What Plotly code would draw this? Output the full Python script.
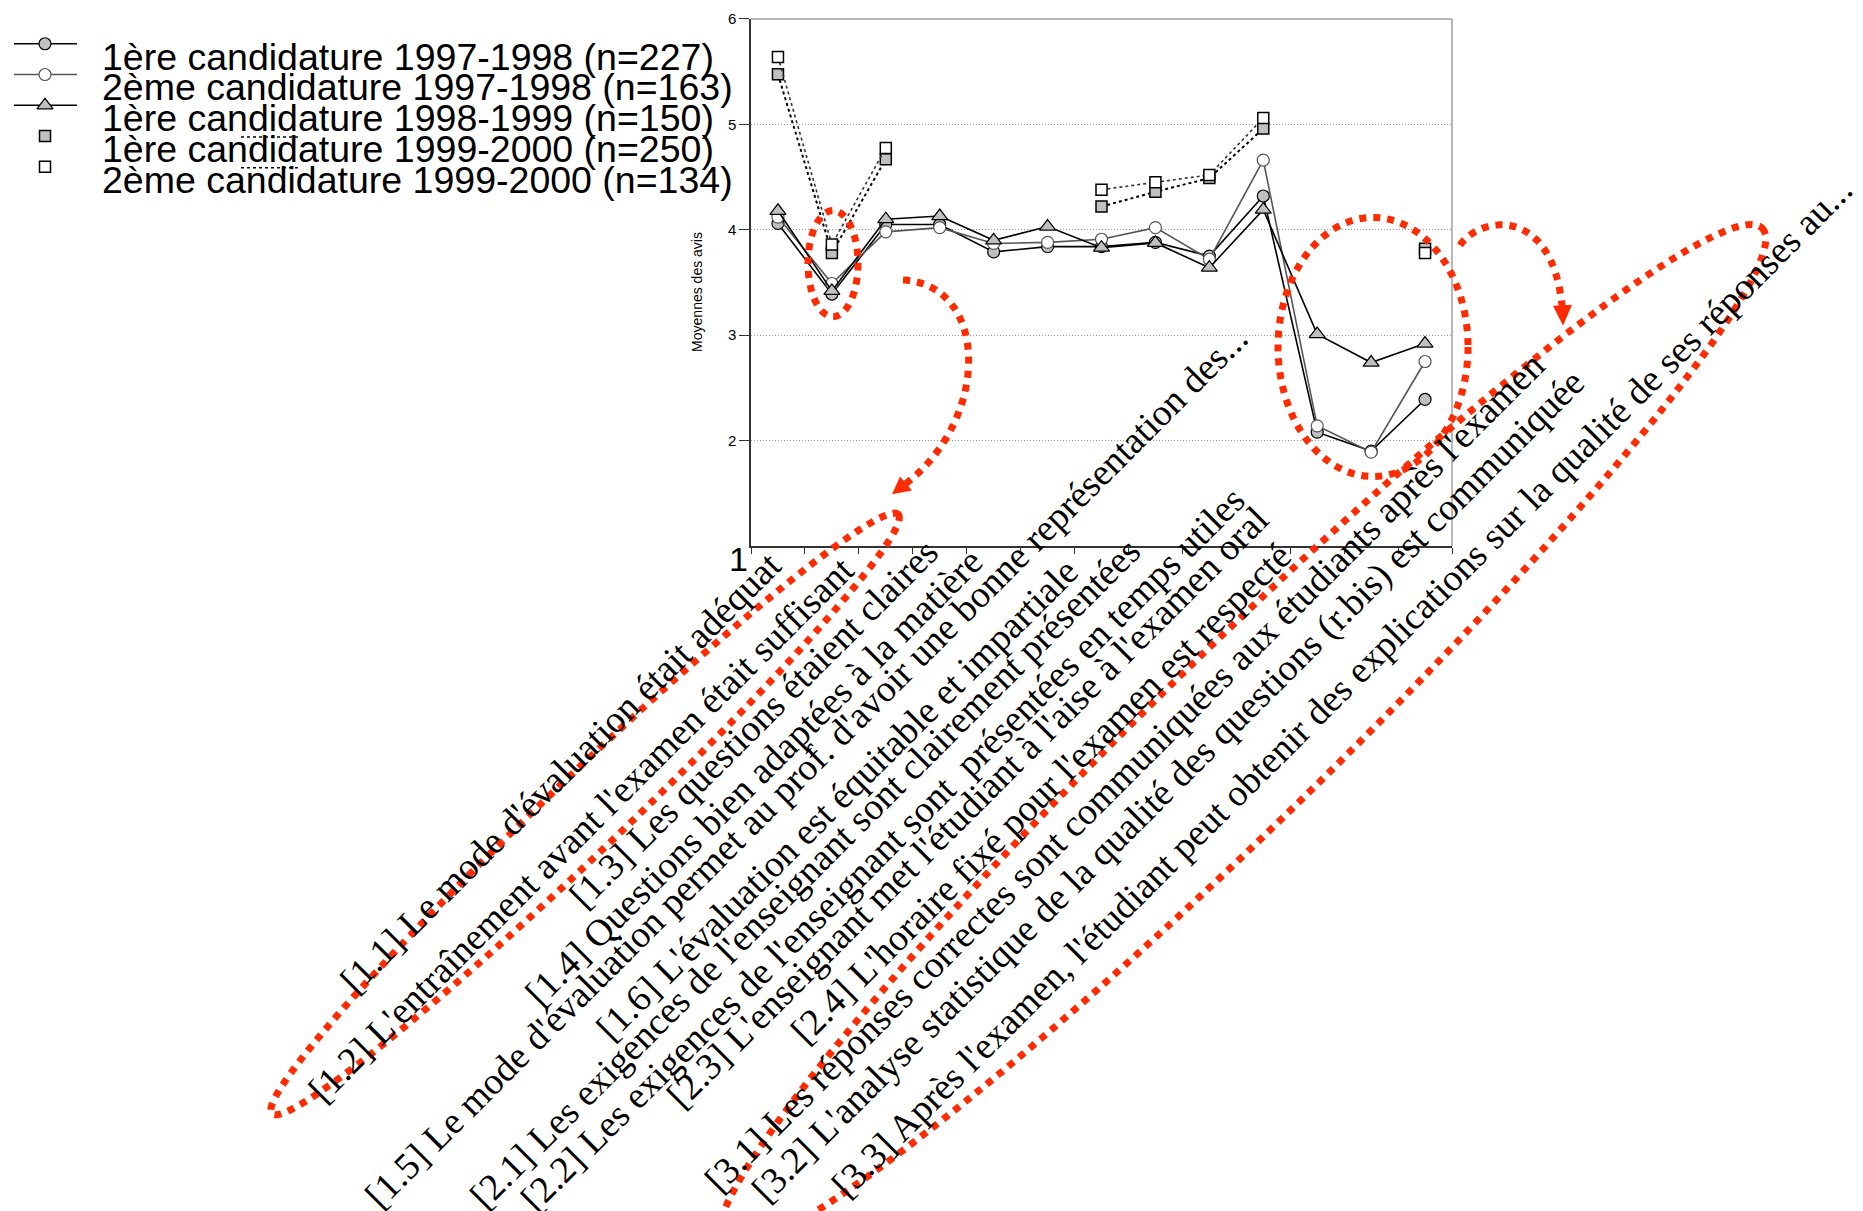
import numpy as np
import plotly.graph_objects as go

# ---------------- data ----------------
categories = [
    "[1.1] Le mode d'évaluation était adéquat",
    "[1.2] L'entraînement avant l'examen était suffisant",
    "[1.3] Les questions étaient claires",
    "[1.4] Questions bien adaptées à la matière",
    "[1.5] Le mode d'évaluation permet au prof. d'avoir une bonne représentation des...",
    "[1.6] L'évaluation est équitable et impartiale",
    "[2.1] Les exigences de l'enseignant sont clairement présentées",
    "[2.2] Les exigences de l'enseignant sont  présentées en temps utiles",
    "[2.3] L'enseignant met l'étudiant à l'aise à l'examen oral",
    "[2.4] L'horaire fixé pour l'examen est respecté",
    "[3.1] Les réponses correctes sont communiquées aux étudiants après l'examen",
    "[3.2] L'analyse statistique de la qualité des questions (r.bis) est communiquée",
    "[3.3] Après l'examen, l'étudiant peut obtenir des explications sur la qualité de ses réponses au...",
]

series_names = [
    "1ère candidature 1997-1998 (n=227)",
    "2ème candidature 1997-1998 (n=163)",
    "1ère candidature 1998-1999 (n=150)",
    "1ère candidature 1999-2000 (n=250)",
    "2ème candidature 1999-2000 (n=134)",
]

cand1_9798 = [4.06, 3.39, 4.05, 4.05, 3.79, 3.84, 3.84, 3.88, 3.75, 4.32, 2.08, 1.90, 2.39]
cand2_9798 = [4.12, 3.49, 3.98, 4.02, 3.87, 3.88, 3.91, 4.02, 3.72, 4.66, 2.14, 1.89, 2.75]
cand1_9899 = [4.18, 3.42, 4.10, 4.13, 3.90, 4.03, 3.83, 3.875, 3.64, 4.19, 3.01, 2.74, 2.92]
cand1_9900 = [5.475, 3.78, 4.67, None, None, None, 4.22, 4.36, 4.49, 4.96, None, None, 3.82]
cand2_9900 = [5.64, 3.86, 4.775, None, None, None, 4.38, 4.45, 4.52, 5.06, None, None, 3.78]

y_tick_values = [2, 3, 4, 5, 6]
y_title = "Moyennes des avis"

# ---------------- geometry (pixels of the 1863x1211 page) ----------------
W, H = 1863, 1211
Y_SHIFT = 7          # the page is drawn this many px lower than plotly's own coordinates
PLOT_L, PLOT_R, PLOT_T, PLOT_B = 751, 1452, 14, 548
PLOT_T_SAFE = PLOT_T + 3   # keeps the top tick label inside the svg


def px(x):
    return x / W


def py(y):
    return 1 - (y - Y_SHIFT) / H


# top-right corner of the (rotated) box of every category label
LABEL_ANCHORS = [(792, 543), (865, 548), (949, 530), (993, 540), (1259, 315),
                 (1089, 550), (1151, 530), (1255, 478), (1279, 498), (1302, 535),
                 (1555, 342), (1596, 359), (1864, 165)]

LEG_ROWS = [42, 73, 104, 135, 166]

GRAY = "#c0c0c0"
DARK = "#555555"
RED = "#ff2a00"

fig = go.Figure()

# ---------------- data traces ----------------
fig.add_trace(go.Scatter(
    x=categories, y=cand1_9798, name=series_names[0], mode="lines+markers",
    line=dict(color="black", width=1.6),
    marker=dict(symbol="circle", size=12, color=GRAY, line=dict(color="black", width=1.2)),
))
fig.add_trace(go.Scatter(
    x=categories, y=cand2_9798, name=series_names[1], mode="lines+markers",
    line=dict(color=DARK, width=1.6),
    marker=dict(symbol="circle", size=12, color="white", line=dict(color=DARK, width=1.2)),
))
fig.add_trace(go.Scatter(
    x=categories, y=cand1_9899, name=series_names[2], mode="lines+markers",
    line=dict(color="black", width=1.6),
    marker=dict(symbol="triangle-up", size=14, color=GRAY, line=dict(color="black", width=1.2)),
))
fig.add_trace(go.Scatter(
    x=categories, y=cand1_9900, name=series_names[3], mode="lines+markers",
    line=dict(color="black", width=2, dash="dot"), connectgaps=False,
    marker=dict(symbol="square", size=11, color=GRAY, line=dict(color="black", width=1.5)),
))
fig.add_trace(go.Scatter(
    x=categories, y=cand2_9900, name=series_names[4], mode="lines+markers",
    line=dict(color="#333333", width=1.6, dash="dot"), connectgaps=False,
    marker=dict(symbol="square", size=11, color="white", line=dict(color="black", width=1.5)),
))

# ---------------- hand-made legend (overlay axes in pixel units) ----------------
leg_common = dict(xaxis="x2", yaxis="y2", showlegend=False, hoverinfo="skip", cliponaxis=False)
leg_line_colors = ["black", DARK, "black"]
leg_markers = [
    dict(symbol="circle", size=12, color=GRAY, line=dict(color="black", width=1.2)),
    dict(symbol="circle", size=12, color="white", line=dict(color=DARK, width=1.2)),
    dict(symbol="triangle-up", size=14, color=GRAY, line=dict(color="black", width=1.2)),
    dict(symbol="square", size=11, color=GRAY, line=dict(color="black", width=1.5)),
    dict(symbol="square", size=11, color="white", line=dict(color="black", width=1.5)),
]
for i, ry in enumerate(LEG_ROWS):
    if i < 3:
        fig.add_trace(go.Scatter(x=[14, 77], y=[ry, ry], mode="lines",
                                 line=dict(color=leg_line_colors[i], width=1.6), **leg_common))
    else:
        fig.add_trace(go.Scatter(x=[241, 301], y=[ry + 1, ry + 1], mode="lines",
                                 line=dict(color="black", width=1.6, dash="dot"), **leg_common))
    fig.add_trace(go.Scatter(x=[45], y=[ry], mode="markers", marker=leg_markers[i], **leg_common))

annotations = []
for i, ry in enumerate(LEG_ROWS):
    annotations.append(dict(
        x=px(100), y=py(ry + 13), xref="paper", yref="paper", xanchor="left", yanchor="middle",
        text=series_names[i], showarrow=False,
        font=dict(family="Liberation Sans, Arial, sans-serif", size=37.5, color="black"),
    ))

# rotated category labels
for cat, (ax_, ay_) in zip(categories, LABEL_ANCHORS):
    annotations.append(dict(
        x=px(ax_), y=py(ay_), xref="paper", yref="paper", xanchor="right", yanchor="top",
        text=cat.replace("  ", " \u00a0"), showarrow=False, textangle=-45,
        font=dict(family="Liberation Serif, Times New Roman, serif", size=37.5, color="black"),
    ))

# the big "1" at the bottom of the y axis
annotations.append(dict(
    x=px(750), y=py(561), xref="paper", yref="paper", xanchor="right", yanchor="middle",
    text="1", showarrow=False,
    font=dict(family="Liberation Sans, Arial, sans-serif", size=34, color="black"),
))

# y axis title
annotations.append(dict(
    x=px(697), y=py(292), xref="paper", yref="paper", xanchor="center", yanchor="middle",
    text=y_title, showarrow=False, textangle=-90,
    font=dict(family="Liberation Sans, Arial, sans-serif", size=14, color="black"),
))

# ---------------- shapes: frame and red dotted marks ----------------
shapes = [
    dict(type="line", xref="paper", yref="paper", x0=px(PLOT_L), x1=px(PLOT_R),
         y0=py(PLOT_T_SAFE), y1=py(PLOT_T_SAFE), line=dict(color="#a0a0a0", width=1.5), layer="above"),
    dict(type="line", xref="paper", yref="paper", x0=px(PLOT_R), x1=px(PLOT_R),
         y0=py(PLOT_T_SAFE), y1=py(PLOT_B), line=dict(color="#a0a0a0", width=1.5), layer="above"),
]

red_line = dict(color=RED, width=7, dash="7px,7px")


def pt(x, y):
    return f"{px(x):.5f},{py(y):.5f}"


def rot_ellipse(cx, cy, a, b, ang_deg, n=160):
    th = np.deg2rad(ang_deg)
    t = np.linspace(0, 2 * np.pi, n, endpoint=False)
    xs = cx + a * np.cos(t) * np.cos(th) - b * np.sin(t) * np.sin(th)
    ys = cy + a * np.cos(t) * np.sin(th) + b * np.sin(t) * np.cos(th)
    return "M " + " L ".join(pt(x, y) for x, y in zip(xs, ys)) + " Z"


# ellipse around item 1.2 markers
shapes.append(dict(type="circle", xref="paper", yref="paper",
                   x0=px(808), x1=px(858), y0=py(317), y1=py(210), line=red_line))
# ellipse around items 3.x markers
shapes.append(dict(type="circle", xref="paper", yref="paper",
                   x0=px(1278), x1=px(1468), y0=py(478), y1=py(217), line=red_line))
# long loop round label 1.2
shapes.append(dict(type="path", xref="paper", yref="paper",
                   path=rot_ellipse(585, 818, 435, 38, -43.95), line=red_line))
# long loop round labels 3.x
shapes.append(dict(type="path", xref="paper", yref="paper",
                   path=rot_ellipse(1242, 740, 730, 87, -44.55), line=red_line))
# curved arrow (middle)
shapes.append(dict(type="path", xref="paper", yref="paper",
                   path=f"M {pt(903, 280)} C {pt(990, 285)} {pt(990, 420)} {pt(906, 485)}", line=red_line))
shapes.append(dict(type="path", xref="paper", yref="paper",
                   path=f"M {pt(892, 496)} L {pt(900, 478)} L {pt(912, 492)} Z",
                   fillcolor=RED, line=dict(width=0)))
# curved arrow (right)
shapes.append(dict(type="path", xref="paper", yref="paper",
                   path=f"M {pt(1460, 245)} C {pt(1480, 215)} {pt(1552, 205)} {pt(1562, 306)}", line=red_line))
shapes.append(dict(type="path", xref="paper", yref="paper",
                   path=f"M {pt(1563, 326)} L {pt(1553, 306)} L {pt(1572, 305)} Z",
                   fillcolor=RED, line=dict(width=0)))

fig.update_layout(
    width=W, height=H,
    margin=dict(l=0, r=0, t=0, b=0),
    paper_bgcolor="white", plot_bgcolor="white",
    showlegend=False,
    font=dict(family="Liberation Sans, Arial, sans-serif", color="black"),
    xaxis=dict(
        domain=[px(PLOT_L), px(PLOT_R)], type="category",
        categoryorder="array", categoryarray=categories, range=[-0.5, 12.5],
        showticklabels=False, ticks="outside", tickson="boundaries", ticklen=6,
        tickcolor="#333333", tickwidth=1.2,
        showline=True, linecolor="#333333", linewidth=2, showgrid=False, zeroline=False,
    ),
    yaxis=dict(
        domain=[py(PLOT_B), py(PLOT_T_SAFE)], range=[1, 6],
        tickvals=y_tick_values, ticks="outside", ticklen=10, tickcolor="#333333", tickwidth=1.2,
        tickfont=dict(family="Liberation Sans, Arial, sans-serif", size=15, color="black"),
        showline=True, linecolor="#333333", linewidth=1.5,
        showgrid=True, gridcolor="#9a9a9a", gridwidth=1, griddash="1px,2px", zeroline=False,
    ),
    xaxis2=dict(domain=[0, px(320)], anchor="y2", range=[0, 320], visible=False, fixedrange=True),
    yaxis2=dict(domain=[py(200), 1], anchor="x2", range=[200, Y_SHIFT], visible=False, fixedrange=True),
    annotations=annotations,
    shapes=shapes,
)

fig.write_html("out.html", config={"displayModeBar": False},
               post_script="document.body.style.margin='0';")
